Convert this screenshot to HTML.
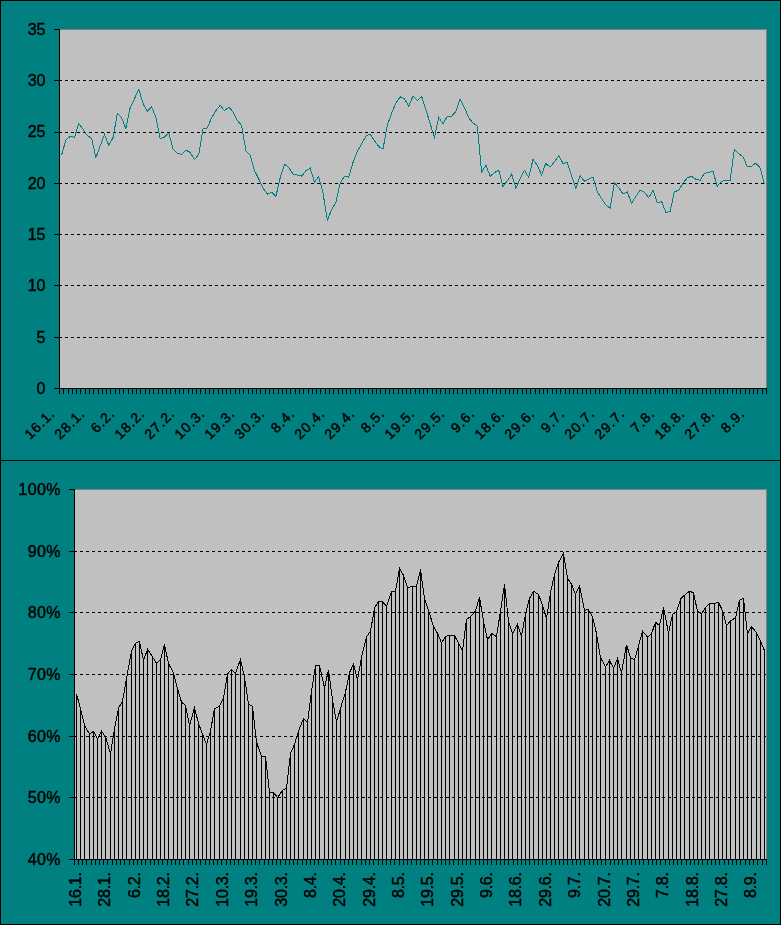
<!DOCTYPE html>
<html><head><meta charset="utf-8"><title>Charts</title>
<style>
html,body{margin:0;padding:0;background:#008080;}
svg{display:block;}
text{font-family:"Liberation Sans",Arial,sans-serif;font-size:16px;fill:#000;stroke:#000;stroke-width:0.45px;}
text.d{font-size:14px;letter-spacing:1px;}
text.v{font-size:16px;letter-spacing:-0.25px;}
text.p{letter-spacing:0.4px;}
</style></head><body>
<svg width="781" height="925" viewBox="0 0 781 925">
<rect x="0" y="0" width="781" height="925" fill="#008080"/>
<g shape-rendering="crispEdges" fill="#000">
<rect x="0" y="0" width="781" height="1"/>
<rect x="0" y="0" width="1" height="925"/>
<rect x="780" y="0" width="1" height="925"/>
<rect x="0" y="460" width="781" height="1"/>
<rect x="0" y="924" width="781" height="1"/>
</g>
<g shape-rendering="crispEdges">
<rect x="59" y="29" width="708" height="360" fill="#808080"/>
<rect x="60" y="30" width="706" height="358" fill="#c0c0c0"/>
<line x1="59" y1="80.5" x2="766" y2="80.5" stroke="#000" stroke-width="1" stroke-dasharray="3 3"/>
<line x1="59" y1="132.5" x2="766" y2="132.5" stroke="#000" stroke-width="1" stroke-dasharray="3 3"/>
<line x1="59" y1="183.5" x2="766" y2="183.5" stroke="#000" stroke-width="1" stroke-dasharray="3 3"/>
<line x1="59" y1="234.5" x2="766" y2="234.5" stroke="#000" stroke-width="1" stroke-dasharray="3 3"/>
<line x1="59" y1="285.5" x2="766" y2="285.5" stroke="#000" stroke-width="1" stroke-dasharray="3 3"/>
<line x1="59" y1="337.5" x2="766" y2="337.5" stroke="#000" stroke-width="1" stroke-dasharray="3 3"/>
<rect x="59" y="29" width="1" height="360" fill="#000"/>
<rect x="59" y="388" width="708" height="1" fill="#000"/>
<rect x="54" y="388" width="6" height="1" fill="#000"/>
<rect x="54" y="337" width="6" height="1" fill="#000"/>
<rect x="54" y="285" width="6" height="1" fill="#000"/>
<rect x="54" y="234" width="6" height="1" fill="#000"/>
<rect x="54" y="183" width="6" height="1" fill="#000"/>
<rect x="54" y="132" width="6" height="1" fill="#000"/>
<rect x="54" y="80" width="6" height="1" fill="#000"/>
<rect x="54" y="29" width="6" height="1" fill="#000"/>
<rect x="59" y="388" width="1" height="6" fill="#000"/>
<rect x="63" y="388" width="1" height="6" fill="#000"/>
<rect x="68" y="388" width="1" height="6" fill="#000"/>
<rect x="72" y="388" width="1" height="6" fill="#000"/>
<rect x="76" y="388" width="1" height="6" fill="#000"/>
<rect x="80" y="388" width="1" height="6" fill="#000"/>
<rect x="85" y="388" width="1" height="6" fill="#000"/>
<rect x="89" y="388" width="1" height="6" fill="#000"/>
<rect x="93" y="388" width="1" height="6" fill="#000"/>
<rect x="98" y="388" width="1" height="6" fill="#000"/>
<rect x="102" y="388" width="1" height="6" fill="#000"/>
<rect x="106" y="388" width="1" height="6" fill="#000"/>
<rect x="110" y="388" width="1" height="6" fill="#000"/>
<rect x="115" y="388" width="1" height="6" fill="#000"/>
<rect x="119" y="388" width="1" height="6" fill="#000"/>
<rect x="123" y="388" width="1" height="6" fill="#000"/>
<rect x="128" y="388" width="1" height="6" fill="#000"/>
<rect x="132" y="388" width="1" height="6" fill="#000"/>
<rect x="136" y="388" width="1" height="6" fill="#000"/>
<rect x="140" y="388" width="1" height="6" fill="#000"/>
<rect x="145" y="388" width="1" height="6" fill="#000"/>
<rect x="149" y="388" width="1" height="6" fill="#000"/>
<rect x="153" y="388" width="1" height="6" fill="#000"/>
<rect x="158" y="388" width="1" height="6" fill="#000"/>
<rect x="162" y="388" width="1" height="6" fill="#000"/>
<rect x="166" y="388" width="1" height="6" fill="#000"/>
<rect x="170" y="388" width="1" height="6" fill="#000"/>
<rect x="175" y="388" width="1" height="6" fill="#000"/>
<rect x="179" y="388" width="1" height="6" fill="#000"/>
<rect x="183" y="388" width="1" height="6" fill="#000"/>
<rect x="188" y="388" width="1" height="6" fill="#000"/>
<rect x="192" y="388" width="1" height="6" fill="#000"/>
<rect x="196" y="388" width="1" height="6" fill="#000"/>
<rect x="200" y="388" width="1" height="6" fill="#000"/>
<rect x="205" y="388" width="1" height="6" fill="#000"/>
<rect x="209" y="388" width="1" height="6" fill="#000"/>
<rect x="213" y="388" width="1" height="6" fill="#000"/>
<rect x="218" y="388" width="1" height="6" fill="#000"/>
<rect x="222" y="388" width="1" height="6" fill="#000"/>
<rect x="226" y="388" width="1" height="6" fill="#000"/>
<rect x="230" y="388" width="1" height="6" fill="#000"/>
<rect x="235" y="388" width="1" height="6" fill="#000"/>
<rect x="239" y="388" width="1" height="6" fill="#000"/>
<rect x="243" y="388" width="1" height="6" fill="#000"/>
<rect x="248" y="388" width="1" height="6" fill="#000"/>
<rect x="252" y="388" width="1" height="6" fill="#000"/>
<rect x="256" y="388" width="1" height="6" fill="#000"/>
<rect x="260" y="388" width="1" height="6" fill="#000"/>
<rect x="265" y="388" width="1" height="6" fill="#000"/>
<rect x="269" y="388" width="1" height="6" fill="#000"/>
<rect x="273" y="388" width="1" height="6" fill="#000"/>
<rect x="278" y="388" width="1" height="6" fill="#000"/>
<rect x="282" y="388" width="1" height="6" fill="#000"/>
<rect x="286" y="388" width="1" height="6" fill="#000"/>
<rect x="290" y="388" width="1" height="6" fill="#000"/>
<rect x="295" y="388" width="1" height="6" fill="#000"/>
<rect x="299" y="388" width="1" height="6" fill="#000"/>
<rect x="303" y="388" width="1" height="6" fill="#000"/>
<rect x="308" y="388" width="1" height="6" fill="#000"/>
<rect x="312" y="388" width="1" height="6" fill="#000"/>
<rect x="316" y="388" width="1" height="6" fill="#000"/>
<rect x="320" y="388" width="1" height="6" fill="#000"/>
<rect x="325" y="388" width="1" height="6" fill="#000"/>
<rect x="329" y="388" width="1" height="6" fill="#000"/>
<rect x="333" y="388" width="1" height="6" fill="#000"/>
<rect x="338" y="388" width="1" height="6" fill="#000"/>
<rect x="342" y="388" width="1" height="6" fill="#000"/>
<rect x="346" y="388" width="1" height="6" fill="#000"/>
<rect x="350" y="388" width="1" height="6" fill="#000"/>
<rect x="355" y="388" width="1" height="6" fill="#000"/>
<rect x="359" y="388" width="1" height="6" fill="#000"/>
<rect x="363" y="388" width="1" height="6" fill="#000"/>
<rect x="368" y="388" width="1" height="6" fill="#000"/>
<rect x="372" y="388" width="1" height="6" fill="#000"/>
<rect x="376" y="388" width="1" height="6" fill="#000"/>
<rect x="380" y="388" width="1" height="6" fill="#000"/>
<rect x="385" y="388" width="1" height="6" fill="#000"/>
<rect x="389" y="388" width="1" height="6" fill="#000"/>
<rect x="393" y="388" width="1" height="6" fill="#000"/>
<rect x="398" y="388" width="1" height="6" fill="#000"/>
<rect x="402" y="388" width="1" height="6" fill="#000"/>
<rect x="406" y="388" width="1" height="6" fill="#000"/>
<rect x="410" y="388" width="1" height="6" fill="#000"/>
<rect x="415" y="388" width="1" height="6" fill="#000"/>
<rect x="419" y="388" width="1" height="6" fill="#000"/>
<rect x="423" y="388" width="1" height="6" fill="#000"/>
<rect x="427" y="388" width="1" height="6" fill="#000"/>
<rect x="432" y="388" width="1" height="6" fill="#000"/>
<rect x="436" y="388" width="1" height="6" fill="#000"/>
<rect x="440" y="388" width="1" height="6" fill="#000"/>
<rect x="445" y="388" width="1" height="6" fill="#000"/>
<rect x="449" y="388" width="1" height="6" fill="#000"/>
<rect x="453" y="388" width="1" height="6" fill="#000"/>
<rect x="457" y="388" width="1" height="6" fill="#000"/>
<rect x="462" y="388" width="1" height="6" fill="#000"/>
<rect x="466" y="388" width="1" height="6" fill="#000"/>
<rect x="470" y="388" width="1" height="6" fill="#000"/>
<rect x="475" y="388" width="1" height="6" fill="#000"/>
<rect x="479" y="388" width="1" height="6" fill="#000"/>
<rect x="483" y="388" width="1" height="6" fill="#000"/>
<rect x="487" y="388" width="1" height="6" fill="#000"/>
<rect x="492" y="388" width="1" height="6" fill="#000"/>
<rect x="496" y="388" width="1" height="6" fill="#000"/>
<rect x="500" y="388" width="1" height="6" fill="#000"/>
<rect x="505" y="388" width="1" height="6" fill="#000"/>
<rect x="509" y="388" width="1" height="6" fill="#000"/>
<rect x="513" y="388" width="1" height="6" fill="#000"/>
<rect x="517" y="388" width="1" height="6" fill="#000"/>
<rect x="522" y="388" width="1" height="6" fill="#000"/>
<rect x="526" y="388" width="1" height="6" fill="#000"/>
<rect x="530" y="388" width="1" height="6" fill="#000"/>
<rect x="535" y="388" width="1" height="6" fill="#000"/>
<rect x="539" y="388" width="1" height="6" fill="#000"/>
<rect x="543" y="388" width="1" height="6" fill="#000"/>
<rect x="547" y="388" width="1" height="6" fill="#000"/>
<rect x="552" y="388" width="1" height="6" fill="#000"/>
<rect x="556" y="388" width="1" height="6" fill="#000"/>
<rect x="560" y="388" width="1" height="6" fill="#000"/>
<rect x="565" y="388" width="1" height="6" fill="#000"/>
<rect x="569" y="388" width="1" height="6" fill="#000"/>
<rect x="573" y="388" width="1" height="6" fill="#000"/>
<rect x="577" y="388" width="1" height="6" fill="#000"/>
<rect x="582" y="388" width="1" height="6" fill="#000"/>
<rect x="586" y="388" width="1" height="6" fill="#000"/>
<rect x="590" y="388" width="1" height="6" fill="#000"/>
<rect x="595" y="388" width="1" height="6" fill="#000"/>
<rect x="599" y="388" width="1" height="6" fill="#000"/>
<rect x="603" y="388" width="1" height="6" fill="#000"/>
<rect x="607" y="388" width="1" height="6" fill="#000"/>
<rect x="612" y="388" width="1" height="6" fill="#000"/>
<rect x="616" y="388" width="1" height="6" fill="#000"/>
<rect x="620" y="388" width="1" height="6" fill="#000"/>
<rect x="625" y="388" width="1" height="6" fill="#000"/>
<rect x="629" y="388" width="1" height="6" fill="#000"/>
<rect x="633" y="388" width="1" height="6" fill="#000"/>
<rect x="637" y="388" width="1" height="6" fill="#000"/>
<rect x="642" y="388" width="1" height="6" fill="#000"/>
<rect x="646" y="388" width="1" height="6" fill="#000"/>
<rect x="650" y="388" width="1" height="6" fill="#000"/>
<rect x="655" y="388" width="1" height="6" fill="#000"/>
<rect x="659" y="388" width="1" height="6" fill="#000"/>
<rect x="663" y="388" width="1" height="6" fill="#000"/>
<rect x="667" y="388" width="1" height="6" fill="#000"/>
<rect x="672" y="388" width="1" height="6" fill="#000"/>
<rect x="676" y="388" width="1" height="6" fill="#000"/>
<rect x="680" y="388" width="1" height="6" fill="#000"/>
<rect x="685" y="388" width="1" height="6" fill="#000"/>
<rect x="689" y="388" width="1" height="6" fill="#000"/>
<rect x="693" y="388" width="1" height="6" fill="#000"/>
<rect x="697" y="388" width="1" height="6" fill="#000"/>
<rect x="702" y="388" width="1" height="6" fill="#000"/>
<rect x="706" y="388" width="1" height="6" fill="#000"/>
<rect x="710" y="388" width="1" height="6" fill="#000"/>
<rect x="715" y="388" width="1" height="6" fill="#000"/>
<rect x="719" y="388" width="1" height="6" fill="#000"/>
<rect x="723" y="388" width="1" height="6" fill="#000"/>
<rect x="727" y="388" width="1" height="6" fill="#000"/>
<rect x="732" y="388" width="1" height="6" fill="#000"/>
<rect x="736" y="388" width="1" height="6" fill="#000"/>
<rect x="740" y="388" width="1" height="6" fill="#000"/>
<rect x="745" y="388" width="1" height="6" fill="#000"/>
<rect x="749" y="388" width="1" height="6" fill="#000"/>
<rect x="753" y="388" width="1" height="6" fill="#000"/>
<rect x="757" y="388" width="1" height="6" fill="#000"/>
<rect x="762" y="388" width="1" height="6" fill="#000"/>
<rect x="766" y="388" width="1" height="6" fill="#000"/>
</g>
<polyline points="61.6,154.9 65.9,139.9 70.2,136.3 74.5,137.4 78.8,123.5 83.1,129.3 87.3,135.7 91.6,138.3 95.9,157.5 100.2,145.9 104.5,134.4 108.8,145.6 113.1,137.4 117.3,113.5 121.6,117.8 125.9,128.7 130.2,107.5 134.5,98.6 138.8,89.2 143.1,103.7 147.3,111.4 151.6,107.1 155.9,117.1 160.2,138.9 164.5,137.0 168.8,133.1 173.1,149.1 177.3,153.0 181.6,154.5 185.9,150.2 190.2,152.3 194.5,159.6 198.8,154.3 203.0,128.7 207.3,128.0 211.6,117.8 215.9,110.7 220.2,105.2 224.5,110.7 228.8,107.1 233.0,112.0 237.3,120.3 241.6,125.5 245.9,150.6 250.2,155.3 254.5,170.7 258.8,179.0 263.0,188.0 267.3,194.1 271.6,192.2 275.9,196.3 280.2,177.7 284.5,164.3 288.7,167.5 293.0,173.9 297.3,175.2 301.6,176.2 305.9,170.7 310.2,168.1 314.5,182.2 318.7,176.5 323.0,193.1 327.3,220.2 331.6,209.5 335.9,202.2 340.2,183.0 344.4,176.3 348.7,177.2 353.0,162.5 357.3,151.6 361.6,143.9 365.9,136.0 370.2,134.3 374.4,140.7 378.7,146.5 383.0,149.1 387.3,125.4 391.6,113.2 395.9,103.0 400.2,96.9 404.4,98.6 408.7,106.2 413.0,96.3 417.3,100.5 421.6,96.3 425.9,109.4 430.1,123.5 434.4,137.6 438.7,117.4 443.0,123.5 447.3,116.5 451.6,116.2 455.9,111.4 460.1,99.2 464.4,107.5 468.7,117.8 473.0,122.9 477.3,126.1 481.6,172.3 485.9,165.3 490.1,176.2 494.4,172.6 498.7,170.3 503.0,186.4 507.3,180.9 511.6,174.2 515.9,188.2 520.1,179.0 524.4,170.3 528.7,177.5 533.0,159.4 537.3,165.2 541.6,175.2 545.8,163.4 550.1,167.2 554.4,161.7 558.7,155.7 563.0,163.4 567.3,162.5 571.6,175.4 575.8,188.3 580.1,175.5 584.4,181.2 588.7,179.0 593.0,177.4 597.3,191.5 601.5,198.5 605.8,204.9 610.1,208.1 614.4,182.8 618.7,187.6 623.0,194.0 627.3,191.8 631.5,203.2 635.8,196.6 640.1,190.2 644.4,192.1 648.7,197.9 653.0,190.4 657.3,203.0 661.5,201.2 665.8,212.5 670.1,211.6 674.4,191.3 678.7,190.7 683.0,183.0 687.2,177.9 691.5,176.2 695.8,179.2 700.1,180.3 704.4,173.4 708.7,172.3 713.0,171.4 717.2,186.2 721.5,181.5 725.8,180.0 730.1,180.6 734.4,149.2 738.7,153.8 743.0,156.6 747.2,166.4 751.5,166.2 755.8,163.1 760.1,167.9 764.4,184.3" fill="none" stroke="#008080" stroke-width="1" shape-rendering="crispEdges"/>
<text x="45.5" y="393.8" text-anchor="end">0</text>
<text x="45.5" y="342.5" text-anchor="end">5</text>
<text x="45.5" y="291.2" text-anchor="end">10</text>
<text x="45.5" y="239.9" text-anchor="end">15</text>
<text x="45.5" y="188.7" text-anchor="end">20</text>
<text x="45.5" y="137.4" text-anchor="end">25</text>
<text x="45.5" y="86.1" text-anchor="end">30</text>
<text x="45.5" y="34.8" text-anchor="end">35</text>
<text class="d" transform="translate(55.8 414.4) rotate(-45)" text-anchor="end">16.1.</text>
<text class="d" transform="translate(85.8 414.4) rotate(-45)" text-anchor="end">28.1.</text>
<text class="d" transform="translate(115.8 414.4) rotate(-45)" text-anchor="end">6.2.</text>
<text class="d" transform="translate(145.8 414.4) rotate(-45)" text-anchor="end">18.2.</text>
<text class="d" transform="translate(175.8 414.4) rotate(-45)" text-anchor="end">27.2.</text>
<text class="d" transform="translate(205.8 414.4) rotate(-45)" text-anchor="end">10.3.</text>
<text class="d" transform="translate(235.8 414.4) rotate(-45)" text-anchor="end">19.3.</text>
<text class="d" transform="translate(265.8 414.4) rotate(-45)" text-anchor="end">30.3.</text>
<text class="d" transform="translate(295.8 414.4) rotate(-45)" text-anchor="end">8.4.</text>
<text class="d" transform="translate(325.8 414.4) rotate(-45)" text-anchor="end">20.4.</text>
<text class="d" transform="translate(355.8 414.4) rotate(-45)" text-anchor="end">29.4.</text>
<text class="d" transform="translate(385.8 414.4) rotate(-45)" text-anchor="end">8.5.</text>
<text class="d" transform="translate(415.8 414.4) rotate(-45)" text-anchor="end">19.5.</text>
<text class="d" transform="translate(445.8 414.4) rotate(-45)" text-anchor="end">29.5.</text>
<text class="d" transform="translate(475.8 414.4) rotate(-45)" text-anchor="end">9.6.</text>
<text class="d" transform="translate(505.8 414.4) rotate(-45)" text-anchor="end">18.6.</text>
<text class="d" transform="translate(535.8 414.4) rotate(-45)" text-anchor="end">29.6.</text>
<text class="d" transform="translate(565.8 414.4) rotate(-45)" text-anchor="end">9.7.</text>
<text class="d" transform="translate(595.8 414.4) rotate(-45)" text-anchor="end">20.7.</text>
<text class="d" transform="translate(625.8 414.4) rotate(-45)" text-anchor="end">29.7.</text>
<text class="d" transform="translate(655.8 414.4) rotate(-45)" text-anchor="end">7.8.</text>
<text class="d" transform="translate(685.8 414.4) rotate(-45)" text-anchor="end">18.8.</text>
<text class="d" transform="translate(715.8 414.4) rotate(-45)" text-anchor="end">27.8.</text>
<text class="d" transform="translate(745.8 414.4) rotate(-45)" text-anchor="end">8.9.</text>
<g shape-rendering="crispEdges">
<rect x="74" y="489" width="693" height="371" fill="#808080"/>
<rect x="75" y="490" width="691" height="369" fill="#c0c0c0"/>
<line x1="74" y1="551.5" x2="766" y2="551.5" stroke="#000" stroke-width="1" stroke-dasharray="3 3"/>
<line x1="74" y1="612.5" x2="766" y2="612.5" stroke="#000" stroke-width="1" stroke-dasharray="3 3"/>
<line x1="74" y1="674.5" x2="766" y2="674.5" stroke="#000" stroke-width="1" stroke-dasharray="3 3"/>
<line x1="74" y1="736.5" x2="766" y2="736.5" stroke="#000" stroke-width="1" stroke-dasharray="3 3"/>
<line x1="74" y1="797.5" x2="766" y2="797.5" stroke="#000" stroke-width="1" stroke-dasharray="3 3"/>
<rect x="74" y="489" width="1" height="371" fill="#000"/>
<rect x="74" y="859" width="693" height="1" fill="#000"/>
<rect x="69" y="859" width="6" height="1" fill="#000"/>
<rect x="69" y="797" width="6" height="1" fill="#000"/>
<rect x="69" y="736" width="6" height="1" fill="#000"/>
<rect x="69" y="674" width="6" height="1" fill="#000"/>
<rect x="69" y="612" width="6" height="1" fill="#000"/>
<rect x="69" y="551" width="6" height="1" fill="#000"/>
<rect x="69" y="489" width="6" height="1" fill="#000"/>
<rect x="74" y="859" width="1" height="6" fill="#000"/>
<rect x="78" y="859" width="1" height="6" fill="#000"/>
<rect x="82" y="859" width="1" height="6" fill="#000"/>
<rect x="86" y="859" width="1" height="6" fill="#000"/>
<rect x="91" y="859" width="1" height="6" fill="#000"/>
<rect x="95" y="859" width="1" height="6" fill="#000"/>
<rect x="99" y="859" width="1" height="6" fill="#000"/>
<rect x="103" y="859" width="1" height="6" fill="#000"/>
<rect x="107" y="859" width="1" height="6" fill="#000"/>
<rect x="112" y="859" width="1" height="6" fill="#000"/>
<rect x="116" y="859" width="1" height="6" fill="#000"/>
<rect x="120" y="859" width="1" height="6" fill="#000"/>
<rect x="124" y="859" width="1" height="6" fill="#000"/>
<rect x="129" y="859" width="1" height="6" fill="#000"/>
<rect x="133" y="859" width="1" height="6" fill="#000"/>
<rect x="137" y="859" width="1" height="6" fill="#000"/>
<rect x="141" y="859" width="1" height="6" fill="#000"/>
<rect x="145" y="859" width="1" height="6" fill="#000"/>
<rect x="150" y="859" width="1" height="6" fill="#000"/>
<rect x="154" y="859" width="1" height="6" fill="#000"/>
<rect x="158" y="859" width="1" height="6" fill="#000"/>
<rect x="162" y="859" width="1" height="6" fill="#000"/>
<rect x="167" y="859" width="1" height="6" fill="#000"/>
<rect x="171" y="859" width="1" height="6" fill="#000"/>
<rect x="175" y="859" width="1" height="6" fill="#000"/>
<rect x="179" y="859" width="1" height="6" fill="#000"/>
<rect x="183" y="859" width="1" height="6" fill="#000"/>
<rect x="188" y="859" width="1" height="6" fill="#000"/>
<rect x="192" y="859" width="1" height="6" fill="#000"/>
<rect x="196" y="859" width="1" height="6" fill="#000"/>
<rect x="200" y="859" width="1" height="6" fill="#000"/>
<rect x="205" y="859" width="1" height="6" fill="#000"/>
<rect x="209" y="859" width="1" height="6" fill="#000"/>
<rect x="213" y="859" width="1" height="6" fill="#000"/>
<rect x="217" y="859" width="1" height="6" fill="#000"/>
<rect x="221" y="859" width="1" height="6" fill="#000"/>
<rect x="226" y="859" width="1" height="6" fill="#000"/>
<rect x="230" y="859" width="1" height="6" fill="#000"/>
<rect x="234" y="859" width="1" height="6" fill="#000"/>
<rect x="238" y="859" width="1" height="6" fill="#000"/>
<rect x="243" y="859" width="1" height="6" fill="#000"/>
<rect x="247" y="859" width="1" height="6" fill="#000"/>
<rect x="251" y="859" width="1" height="6" fill="#000"/>
<rect x="255" y="859" width="1" height="6" fill="#000"/>
<rect x="259" y="859" width="1" height="6" fill="#000"/>
<rect x="264" y="859" width="1" height="6" fill="#000"/>
<rect x="268" y="859" width="1" height="6" fill="#000"/>
<rect x="272" y="859" width="1" height="6" fill="#000"/>
<rect x="276" y="859" width="1" height="6" fill="#000"/>
<rect x="280" y="859" width="1" height="6" fill="#000"/>
<rect x="285" y="859" width="1" height="6" fill="#000"/>
<rect x="289" y="859" width="1" height="6" fill="#000"/>
<rect x="293" y="859" width="1" height="6" fill="#000"/>
<rect x="297" y="859" width="1" height="6" fill="#000"/>
<rect x="302" y="859" width="1" height="6" fill="#000"/>
<rect x="306" y="859" width="1" height="6" fill="#000"/>
<rect x="310" y="859" width="1" height="6" fill="#000"/>
<rect x="314" y="859" width="1" height="6" fill="#000"/>
<rect x="318" y="859" width="1" height="6" fill="#000"/>
<rect x="323" y="859" width="1" height="6" fill="#000"/>
<rect x="327" y="859" width="1" height="6" fill="#000"/>
<rect x="331" y="859" width="1" height="6" fill="#000"/>
<rect x="335" y="859" width="1" height="6" fill="#000"/>
<rect x="340" y="859" width="1" height="6" fill="#000"/>
<rect x="344" y="859" width="1" height="6" fill="#000"/>
<rect x="348" y="859" width="1" height="6" fill="#000"/>
<rect x="352" y="859" width="1" height="6" fill="#000"/>
<rect x="356" y="859" width="1" height="6" fill="#000"/>
<rect x="361" y="859" width="1" height="6" fill="#000"/>
<rect x="365" y="859" width="1" height="6" fill="#000"/>
<rect x="369" y="859" width="1" height="6" fill="#000"/>
<rect x="373" y="859" width="1" height="6" fill="#000"/>
<rect x="378" y="859" width="1" height="6" fill="#000"/>
<rect x="382" y="859" width="1" height="6" fill="#000"/>
<rect x="386" y="859" width="1" height="6" fill="#000"/>
<rect x="390" y="859" width="1" height="6" fill="#000"/>
<rect x="394" y="859" width="1" height="6" fill="#000"/>
<rect x="399" y="859" width="1" height="6" fill="#000"/>
<rect x="403" y="859" width="1" height="6" fill="#000"/>
<rect x="407" y="859" width="1" height="6" fill="#000"/>
<rect x="411" y="859" width="1" height="6" fill="#000"/>
<rect x="416" y="859" width="1" height="6" fill="#000"/>
<rect x="420" y="859" width="1" height="6" fill="#000"/>
<rect x="424" y="859" width="1" height="6" fill="#000"/>
<rect x="428" y="859" width="1" height="6" fill="#000"/>
<rect x="432" y="859" width="1" height="6" fill="#000"/>
<rect x="437" y="859" width="1" height="6" fill="#000"/>
<rect x="441" y="859" width="1" height="6" fill="#000"/>
<rect x="445" y="859" width="1" height="6" fill="#000"/>
<rect x="449" y="859" width="1" height="6" fill="#000"/>
<rect x="453" y="859" width="1" height="6" fill="#000"/>
<rect x="458" y="859" width="1" height="6" fill="#000"/>
<rect x="462" y="859" width="1" height="6" fill="#000"/>
<rect x="466" y="859" width="1" height="6" fill="#000"/>
<rect x="470" y="859" width="1" height="6" fill="#000"/>
<rect x="475" y="859" width="1" height="6" fill="#000"/>
<rect x="479" y="859" width="1" height="6" fill="#000"/>
<rect x="483" y="859" width="1" height="6" fill="#000"/>
<rect x="487" y="859" width="1" height="6" fill="#000"/>
<rect x="491" y="859" width="1" height="6" fill="#000"/>
<rect x="496" y="859" width="1" height="6" fill="#000"/>
<rect x="500" y="859" width="1" height="6" fill="#000"/>
<rect x="504" y="859" width="1" height="6" fill="#000"/>
<rect x="508" y="859" width="1" height="6" fill="#000"/>
<rect x="513" y="859" width="1" height="6" fill="#000"/>
<rect x="517" y="859" width="1" height="6" fill="#000"/>
<rect x="521" y="859" width="1" height="6" fill="#000"/>
<rect x="525" y="859" width="1" height="6" fill="#000"/>
<rect x="529" y="859" width="1" height="6" fill="#000"/>
<rect x="534" y="859" width="1" height="6" fill="#000"/>
<rect x="538" y="859" width="1" height="6" fill="#000"/>
<rect x="542" y="859" width="1" height="6" fill="#000"/>
<rect x="546" y="859" width="1" height="6" fill="#000"/>
<rect x="551" y="859" width="1" height="6" fill="#000"/>
<rect x="555" y="859" width="1" height="6" fill="#000"/>
<rect x="559" y="859" width="1" height="6" fill="#000"/>
<rect x="563" y="859" width="1" height="6" fill="#000"/>
<rect x="567" y="859" width="1" height="6" fill="#000"/>
<rect x="572" y="859" width="1" height="6" fill="#000"/>
<rect x="576" y="859" width="1" height="6" fill="#000"/>
<rect x="580" y="859" width="1" height="6" fill="#000"/>
<rect x="584" y="859" width="1" height="6" fill="#000"/>
<rect x="589" y="859" width="1" height="6" fill="#000"/>
<rect x="593" y="859" width="1" height="6" fill="#000"/>
<rect x="597" y="859" width="1" height="6" fill="#000"/>
<rect x="601" y="859" width="1" height="6" fill="#000"/>
<rect x="605" y="859" width="1" height="6" fill="#000"/>
<rect x="610" y="859" width="1" height="6" fill="#000"/>
<rect x="614" y="859" width="1" height="6" fill="#000"/>
<rect x="618" y="859" width="1" height="6" fill="#000"/>
<rect x="622" y="859" width="1" height="6" fill="#000"/>
<rect x="627" y="859" width="1" height="6" fill="#000"/>
<rect x="631" y="859" width="1" height="6" fill="#000"/>
<rect x="635" y="859" width="1" height="6" fill="#000"/>
<rect x="639" y="859" width="1" height="6" fill="#000"/>
<rect x="643" y="859" width="1" height="6" fill="#000"/>
<rect x="648" y="859" width="1" height="6" fill="#000"/>
<rect x="652" y="859" width="1" height="6" fill="#000"/>
<rect x="656" y="859" width="1" height="6" fill="#000"/>
<rect x="660" y="859" width="1" height="6" fill="#000"/>
<rect x="665" y="859" width="1" height="6" fill="#000"/>
<rect x="669" y="859" width="1" height="6" fill="#000"/>
<rect x="673" y="859" width="1" height="6" fill="#000"/>
<rect x="677" y="859" width="1" height="6" fill="#000"/>
<rect x="681" y="859" width="1" height="6" fill="#000"/>
<rect x="686" y="859" width="1" height="6" fill="#000"/>
<rect x="690" y="859" width="1" height="6" fill="#000"/>
<rect x="694" y="859" width="1" height="6" fill="#000"/>
<rect x="698" y="859" width="1" height="6" fill="#000"/>
<rect x="702" y="859" width="1" height="6" fill="#000"/>
<rect x="707" y="859" width="1" height="6" fill="#000"/>
<rect x="711" y="859" width="1" height="6" fill="#000"/>
<rect x="715" y="859" width="1" height="6" fill="#000"/>
<rect x="719" y="859" width="1" height="6" fill="#000"/>
<rect x="724" y="859" width="1" height="6" fill="#000"/>
<rect x="728" y="859" width="1" height="6" fill="#000"/>
<rect x="732" y="859" width="1" height="6" fill="#000"/>
<rect x="736" y="859" width="1" height="6" fill="#000"/>
<rect x="740" y="859" width="1" height="6" fill="#000"/>
<rect x="745" y="859" width="1" height="6" fill="#000"/>
<rect x="749" y="859" width="1" height="6" fill="#000"/>
<rect x="753" y="859" width="1" height="6" fill="#000"/>
<rect x="757" y="859" width="1" height="6" fill="#000"/>
<rect x="762" y="859" width="1" height="6" fill="#000"/>
<rect x="766" y="859" width="1" height="6" fill="#000"/>
<rect x="76" y="694.0" width="1" height="165.0" fill="#000"/>
<rect x="80" y="708.7" width="1" height="150.3" fill="#000"/>
<rect x="84" y="725.4" width="1" height="133.6" fill="#000"/>
<rect x="89" y="734.2" width="1" height="124.8" fill="#000"/>
<rect x="93" y="731.3" width="1" height="127.7" fill="#000"/>
<rect x="97" y="738.6" width="1" height="120.4" fill="#000"/>
<rect x="101" y="731.3" width="1" height="127.7" fill="#000"/>
<rect x="105" y="736.7" width="1" height="122.3" fill="#000"/>
<rect x="110" y="753.8" width="1" height="105.2" fill="#000"/>
<rect x="114" y="729.0" width="1" height="130.0" fill="#000"/>
<rect x="118" y="708.1" width="1" height="150.9" fill="#000"/>
<rect x="122" y="701.1" width="1" height="157.9" fill="#000"/>
<rect x="126" y="678.7" width="1" height="180.3" fill="#000"/>
<rect x="131" y="651.1" width="1" height="207.9" fill="#000"/>
<rect x="135" y="643.4" width="1" height="215.6" fill="#000"/>
<rect x="139" y="641.3" width="1" height="217.7" fill="#000"/>
<rect x="143" y="660.7" width="1" height="198.3" fill="#000"/>
<rect x="147" y="649.2" width="1" height="209.8" fill="#000"/>
<rect x="152" y="656.9" width="1" height="202.1" fill="#000"/>
<rect x="156" y="663.3" width="1" height="195.7" fill="#000"/>
<rect x="160" y="659.7" width="1" height="199.3" fill="#000"/>
<rect x="164" y="644.6" width="1" height="214.4" fill="#000"/>
<rect x="168" y="663.6" width="1" height="195.4" fill="#000"/>
<rect x="173" y="672.8" width="1" height="186.2" fill="#000"/>
<rect x="177" y="688.8" width="1" height="170.2" fill="#000"/>
<rect x="181" y="702.2" width="1" height="156.8" fill="#000"/>
<rect x="185" y="705.2" width="1" height="153.8" fill="#000"/>
<rect x="189" y="725.9" width="1" height="133.1" fill="#000"/>
<rect x="194" y="707.7" width="1" height="151.3" fill="#000"/>
<rect x="198" y="723.3" width="1" height="135.7" fill="#000"/>
<rect x="202" y="734.2" width="1" height="124.8" fill="#000"/>
<rect x="206" y="744.5" width="1" height="114.5" fill="#000"/>
<rect x="210" y="731.0" width="1" height="128.0" fill="#000"/>
<rect x="214" y="708.6" width="1" height="150.4" fill="#000"/>
<rect x="219" y="706.1" width="1" height="152.9" fill="#000"/>
<rect x="223" y="697.7" width="1" height="161.3" fill="#000"/>
<rect x="227" y="674.1" width="1" height="184.9" fill="#000"/>
<rect x="231" y="669.3" width="1" height="189.7" fill="#000"/>
<rect x="235" y="673.4" width="1" height="185.6" fill="#000"/>
<rect x="240" y="659.3" width="1" height="199.7" fill="#000"/>
<rect x="244" y="677.3" width="1" height="181.7" fill="#000"/>
<rect x="248" y="704.1" width="1" height="154.9" fill="#000"/>
<rect x="252" y="706.2" width="1" height="152.8" fill="#000"/>
<rect x="256" y="742.0" width="1" height="117.0" fill="#000"/>
<rect x="261" y="756.6" width="1" height="102.4" fill="#000"/>
<rect x="265" y="756.3" width="1" height="102.7" fill="#000"/>
<rect x="269" y="792.4" width="1" height="66.6" fill="#000"/>
<rect x="273" y="792.4" width="1" height="66.6" fill="#000"/>
<rect x="277" y="797.6" width="1" height="61.4" fill="#000"/>
<rect x="282" y="790.5" width="1" height="68.5" fill="#000"/>
<rect x="286" y="788.0" width="1" height="71.0" fill="#000"/>
<rect x="290" y="753.4" width="1" height="105.6" fill="#000"/>
<rect x="294" y="744.4" width="1" height="114.6" fill="#000"/>
<rect x="298" y="731.0" width="1" height="128.0" fill="#000"/>
<rect x="303" y="718.4" width="1" height="140.6" fill="#000"/>
<rect x="307" y="722.7" width="1" height="136.3" fill="#000"/>
<rect x="311" y="691.7" width="1" height="167.3" fill="#000"/>
<rect x="315" y="665.5" width="1" height="193.5" fill="#000"/>
<rect x="319" y="665.5" width="1" height="193.5" fill="#000"/>
<rect x="324" y="687.9" width="1" height="171.1" fill="#000"/>
<rect x="328" y="669.9" width="1" height="189.1" fill="#000"/>
<rect x="332" y="699.8" width="1" height="159.2" fill="#000"/>
<rect x="336" y="722.2" width="1" height="136.8" fill="#000"/>
<rect x="340" y="708.4" width="1" height="150.6" fill="#000"/>
<rect x="345" y="692.0" width="1" height="167.0" fill="#000"/>
<rect x="349" y="672.6" width="1" height="186.4" fill="#000"/>
<rect x="353" y="664.3" width="1" height="194.7" fill="#000"/>
<rect x="357" y="679.9" width="1" height="179.1" fill="#000"/>
<rect x="361" y="657.3" width="1" height="201.7" fill="#000"/>
<rect x="366" y="636.8" width="1" height="222.2" fill="#000"/>
<rect x="370" y="631.3" width="1" height="227.7" fill="#000"/>
<rect x="374" y="608.0" width="1" height="251.0" fill="#000"/>
<rect x="378" y="601.6" width="1" height="257.4" fill="#000"/>
<rect x="382" y="601.6" width="1" height="257.4" fill="#000"/>
<rect x="386" y="606.4" width="1" height="252.6" fill="#000"/>
<rect x="391" y="591.4" width="1" height="267.6" fill="#000"/>
<rect x="395" y="591.4" width="1" height="267.6" fill="#000"/>
<rect x="399" y="568.3" width="1" height="290.7" fill="#000"/>
<rect x="403" y="575.4" width="1" height="283.6" fill="#000"/>
<rect x="407" y="587.9" width="1" height="271.1" fill="#000"/>
<rect x="412" y="586.2" width="1" height="272.8" fill="#000"/>
<rect x="416" y="586.2" width="1" height="272.8" fill="#000"/>
<rect x="420" y="569.6" width="1" height="289.4" fill="#000"/>
<rect x="424" y="598.4" width="1" height="260.6" fill="#000"/>
<rect x="428" y="610.0" width="1" height="249.0" fill="#000"/>
<rect x="433" y="626.8" width="1" height="232.2" fill="#000"/>
<rect x="437" y="633.2" width="1" height="225.8" fill="#000"/>
<rect x="441" y="643.0" width="1" height="216.0" fill="#000"/>
<rect x="445" y="636.6" width="1" height="222.4" fill="#000"/>
<rect x="449" y="635.3" width="1" height="223.7" fill="#000"/>
<rect x="454" y="635.6" width="1" height="223.4" fill="#000"/>
<rect x="458" y="643.0" width="1" height="216.0" fill="#000"/>
<rect x="462" y="650.9" width="1" height="208.1" fill="#000"/>
<rect x="466" y="619.3" width="1" height="239.7" fill="#000"/>
<rect x="470" y="616.7" width="1" height="242.3" fill="#000"/>
<rect x="475" y="610.7" width="1" height="248.3" fill="#000"/>
<rect x="479" y="597.5" width="1" height="261.5" fill="#000"/>
<rect x="483" y="621.2" width="1" height="237.8" fill="#000"/>
<rect x="487" y="639.8" width="1" height="219.2" fill="#000"/>
<rect x="491" y="633.4" width="1" height="225.6" fill="#000"/>
<rect x="496" y="636.6" width="1" height="222.4" fill="#000"/>
<rect x="500" y="611.0" width="1" height="248.0" fill="#000"/>
<rect x="504" y="584.3" width="1" height="274.7" fill="#000"/>
<rect x="508" y="621.2" width="1" height="237.8" fill="#000"/>
<rect x="512" y="633.4" width="1" height="225.6" fill="#000"/>
<rect x="517" y="624.4" width="1" height="234.6" fill="#000"/>
<rect x="521" y="636.3" width="1" height="222.7" fill="#000"/>
<rect x="525" y="614.2" width="1" height="244.8" fill="#000"/>
<rect x="529" y="598.5" width="1" height="260.5" fill="#000"/>
<rect x="533" y="591.2" width="1" height="267.8" fill="#000"/>
<rect x="538" y="594.4" width="1" height="264.6" fill="#000"/>
<rect x="542" y="605.3" width="1" height="253.7" fill="#000"/>
<rect x="546" y="618.4" width="1" height="240.6" fill="#000"/>
<rect x="550" y="592.5" width="1" height="266.5" fill="#000"/>
<rect x="554" y="574.6" width="1" height="284.4" fill="#000"/>
<rect x="558" y="562.4" width="1" height="296.6" fill="#000"/>
<rect x="563" y="553.4" width="1" height="305.6" fill="#000"/>
<rect x="567" y="578.4" width="1" height="280.6" fill="#000"/>
<rect x="571" y="584.2" width="1" height="274.8" fill="#000"/>
<rect x="575" y="594.4" width="1" height="264.6" fill="#000"/>
<rect x="579" y="585.8" width="1" height="273.2" fill="#000"/>
<rect x="584" y="610.2" width="1" height="248.8" fill="#000"/>
<rect x="588" y="609.8" width="1" height="249.2" fill="#000"/>
<rect x="592" y="616.8" width="1" height="242.2" fill="#000"/>
<rect x="596" y="633.5" width="1" height="225.5" fill="#000"/>
<rect x="600" y="657.5" width="1" height="201.5" fill="#000"/>
<rect x="605" y="667.1" width="1" height="191.9" fill="#000"/>
<rect x="609" y="660.4" width="1" height="198.6" fill="#000"/>
<rect x="613" y="668.3" width="1" height="190.7" fill="#000"/>
<rect x="617" y="658.7" width="1" height="200.3" fill="#000"/>
<rect x="621" y="672.8" width="1" height="186.2" fill="#000"/>
<rect x="626" y="644.7" width="1" height="214.3" fill="#000"/>
<rect x="630" y="657.5" width="1" height="201.5" fill="#000"/>
<rect x="634" y="660.0" width="1" height="199.0" fill="#000"/>
<rect x="638" y="645.9" width="1" height="213.1" fill="#000"/>
<rect x="642" y="631.2" width="1" height="227.8" fill="#000"/>
<rect x="647" y="637.0" width="1" height="222.0" fill="#000"/>
<rect x="651" y="633.8" width="1" height="225.2" fill="#000"/>
<rect x="655" y="622.3" width="1" height="236.7" fill="#000"/>
<rect x="659" y="625.5" width="1" height="233.5" fill="#000"/>
<rect x="663" y="607.5" width="1" height="251.5" fill="#000"/>
<rect x="668" y="633.1" width="1" height="225.9" fill="#000"/>
<rect x="672" y="614.6" width="1" height="244.4" fill="#000"/>
<rect x="676" y="611.4" width="1" height="247.6" fill="#000"/>
<rect x="680" y="599.2" width="1" height="259.8" fill="#000"/>
<rect x="684" y="595.2" width="1" height="263.8" fill="#000"/>
<rect x="689" y="591.2" width="1" height="267.8" fill="#000"/>
<rect x="693" y="592.8" width="1" height="266.2" fill="#000"/>
<rect x="697" y="611.5" width="1" height="247.5" fill="#000"/>
<rect x="701" y="613.5" width="1" height="245.5" fill="#000"/>
<rect x="705" y="607.8" width="1" height="251.2" fill="#000"/>
<rect x="709" y="603.5" width="1" height="255.5" fill="#000"/>
<rect x="714" y="603.5" width="1" height="255.5" fill="#000"/>
<rect x="718" y="602.3" width="1" height="256.7" fill="#000"/>
<rect x="722" y="610.7" width="1" height="248.3" fill="#000"/>
<rect x="726" y="625.7" width="1" height="233.3" fill="#000"/>
<rect x="730" y="620.6" width="1" height="238.4" fill="#000"/>
<rect x="735" y="618.0" width="1" height="241.0" fill="#000"/>
<rect x="739" y="600.1" width="1" height="258.9" fill="#000"/>
<rect x="743" y="598.4" width="1" height="260.6" fill="#000"/>
<rect x="747" y="633.8" width="1" height="225.2" fill="#000"/>
<rect x="751" y="626.6" width="1" height="232.4" fill="#000"/>
<rect x="756" y="632.7" width="1" height="226.3" fill="#000"/>
<rect x="760" y="641.1" width="1" height="217.9" fill="#000"/>
<rect x="764" y="650.7" width="1" height="208.3" fill="#000"/>
</g>
<polyline points="76.5,694.0 80.5,708.7 84.5,725.4 89.5,734.2 93.5,731.3 97.5,738.6 101.5,731.3 105.5,736.7 110.5,753.8 114.5,729.0 118.5,708.1 122.5,701.1 126.5,678.7 131.5,651.1 135.5,643.4 139.5,641.3 143.5,660.7 147.5,649.2 152.5,656.9 156.5,663.3 160.5,659.7 164.5,644.6 168.5,663.6 173.5,672.8 177.5,688.8 181.5,702.2 185.5,705.2 189.5,725.9 194.5,707.7 198.5,723.3 202.5,734.2 206.5,744.5 210.5,731.0 214.5,708.6 219.5,706.1 223.5,697.7 227.5,674.1 231.5,669.3 235.5,673.4 240.5,659.3 244.5,677.3 248.5,704.1 252.5,706.2 256.5,742.0 261.5,756.6 265.5,756.3 269.5,792.4 273.5,792.4 277.5,797.6 282.5,790.5 286.5,788.0 290.5,753.4 294.5,744.4 298.5,731.0 303.5,718.4 307.5,722.7 311.5,691.7 315.5,665.5 319.5,665.5 324.5,687.9 328.5,669.9 332.5,699.8 336.5,722.2 340.5,708.4 345.5,692.0 349.5,672.6 353.5,664.3 357.5,679.9 361.5,657.3 366.5,636.8 370.5,631.3 374.5,608.0 378.5,601.6 382.5,601.6 386.5,606.4 391.5,591.4 395.5,591.4 399.5,568.3 403.5,575.4 407.5,587.9 412.5,586.2 416.5,586.2 420.5,569.6 424.5,598.4 428.5,610.0 433.5,626.8 437.5,633.2 441.5,643.0 445.5,636.6 449.5,635.3 454.5,635.6 458.5,643.0 462.5,650.9 466.5,619.3 470.5,616.7 475.5,610.7 479.5,597.5 483.5,621.2 487.5,639.8 491.5,633.4 496.5,636.6 500.5,611.0 504.5,584.3 508.5,621.2 512.5,633.4 517.5,624.4 521.5,636.3 525.5,614.2 529.5,598.5 533.5,591.2 538.5,594.4 542.5,605.3 546.5,618.4 550.5,592.5 554.5,574.6 558.5,562.4 563.5,553.4 567.5,578.4 571.5,584.2 575.5,594.4 579.5,585.8 584.5,610.2 588.5,609.8 592.5,616.8 596.5,633.5 600.5,657.5 605.5,667.1 609.5,660.4 613.5,668.3 617.5,658.7 621.5,672.8 626.5,644.7 630.5,657.5 634.5,660.0 638.5,645.9 642.5,631.2 647.5,637.0 651.5,633.8 655.5,622.3 659.5,625.5 663.5,607.5 668.5,633.1 672.5,614.6 676.5,611.4 680.5,599.2 684.5,595.2 689.5,591.2 693.5,592.8 697.5,611.5 701.5,613.5 705.5,607.8 709.5,603.5 714.5,603.5 718.5,602.3 722.5,610.7 726.5,625.7 730.5,620.6 735.5,618.0 739.5,600.1 743.5,598.4 747.5,633.8 751.5,626.6 756.5,632.7 760.5,641.1 764.5,650.7" fill="none" stroke="#000" stroke-width="1" shape-rendering="crispEdges"/>
<text class="p" x="60.9" y="864.8" text-anchor="end">40%</text>
<text class="p" x="60.9" y="803.1" text-anchor="end">50%</text>
<text class="p" x="60.9" y="741.5" text-anchor="end">60%</text>
<text class="p" x="60.9" y="679.8" text-anchor="end">70%</text>
<text class="p" x="60.9" y="618.1" text-anchor="end">80%</text>
<text class="p" x="60.9" y="556.5" text-anchor="end">90%</text>
<text class="p" x="60.9" y="494.8" text-anchor="end">100%</text>
<text class="v" transform="translate(81.0 872.3) rotate(-90)" text-anchor="end">16.1.</text>
<text class="v" transform="translate(110.4 872.3) rotate(-90)" text-anchor="end">28.1.</text>
<text class="v" transform="translate(139.7 872.3) rotate(-90)" text-anchor="end">6.2.</text>
<text class="v" transform="translate(169.1 872.3) rotate(-90)" text-anchor="end">18.2.</text>
<text class="v" transform="translate(198.4 872.3) rotate(-90)" text-anchor="end">27.2.</text>
<text class="v" transform="translate(227.8 872.3) rotate(-90)" text-anchor="end">10.3.</text>
<text class="v" transform="translate(257.2 872.3) rotate(-90)" text-anchor="end">19.3.</text>
<text class="v" transform="translate(286.5 872.3) rotate(-90)" text-anchor="end">30.3.</text>
<text class="v" transform="translate(315.9 872.3) rotate(-90)" text-anchor="end">8.4.</text>
<text class="v" transform="translate(345.2 872.3) rotate(-90)" text-anchor="end">20.4.</text>
<text class="v" transform="translate(374.6 872.3) rotate(-90)" text-anchor="end">29.4.</text>
<text class="v" transform="translate(404.0 872.3) rotate(-90)" text-anchor="end">8.5.</text>
<text class="v" transform="translate(433.3 872.3) rotate(-90)" text-anchor="end">19.5.</text>
<text class="v" transform="translate(462.7 872.3) rotate(-90)" text-anchor="end">29.5.</text>
<text class="v" transform="translate(492.0 872.3) rotate(-90)" text-anchor="end">9.6.</text>
<text class="v" transform="translate(521.4 872.3) rotate(-90)" text-anchor="end">18.6.</text>
<text class="v" transform="translate(550.8 872.3) rotate(-90)" text-anchor="end">29.6.</text>
<text class="v" transform="translate(580.1 872.3) rotate(-90)" text-anchor="end">9.7.</text>
<text class="v" transform="translate(609.5 872.3) rotate(-90)" text-anchor="end">20.7.</text>
<text class="v" transform="translate(638.8 872.3) rotate(-90)" text-anchor="end">29.7.</text>
<text class="v" transform="translate(668.2 872.3) rotate(-90)" text-anchor="end">7.8.</text>
<text class="v" transform="translate(697.6 872.3) rotate(-90)" text-anchor="end">18.8.</text>
<text class="v" transform="translate(726.9 872.3) rotate(-90)" text-anchor="end">27.8.</text>
<text class="v" transform="translate(756.3 872.3) rotate(-90)" text-anchor="end">8.9.</text>
</svg>
</body></html>
